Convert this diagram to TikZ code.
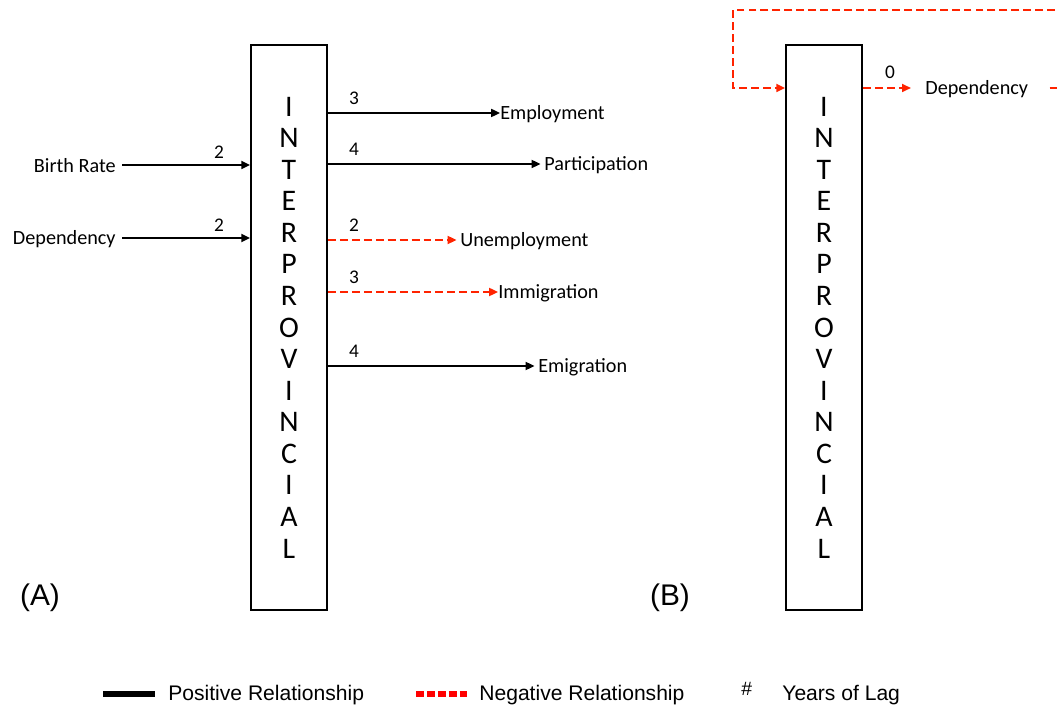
\documentclass[tikz,border=0pt]{standalone}
\usepackage{fontspec}
\setmainfont{Carlito}
\newfontfamily\legendfont{Liberation Sans}
\usetikzlibrary{arrows.meta,calc,positioning}

\definecolor{negred}{RGB}{255,35,0}

\begin{document}
\begin{tikzpicture}[x=0.02cm,y=-0.02cm,
  every node/.style={inner sep=0},
  prov/.style={draw,line width=1.1pt,minimum width=1.52cm,minimum height=11.3cm,
    align=center,font=\fontsize{17}{17.97}\selectfont},
  var/.style={font=\fontsize{11.5}{13}\selectfont},
  lag/.style={font=\fontsize{11}{12}\selectfont},
  posrel/.style={line width=1.1pt,-{Triangle[length=5pt,width=4.5pt]}},
  negrel/.style={posrel,negred,dash pattern=on 4.5pt off 2.3pt},
  panel/.style={font=\legendfont\fontsize{17}{20}\selectfont},
  leg/.style={font=\legendfont\fontsize{12}{14}\selectfont,anchor=west}]
\useasboundingbox (0,0) rectangle (1058,709);
\clip (0,0) rectangle (1058,709);

% panel A
\node[prov] (boxA) at (289,327.5) {I\\N\\T\\E\\R\\P\\R\\O\\V\\I\\N\\C\\I\\A\\L};
\node[panel] (labA) at (40,598) {(A)};

\node[var,anchor=east] (birth) at (116,166) {Birth Rate};
\node[var,anchor=east] (depA) at (116,239) {Dependency};
\draw[posrel] (birth.east) ++(6,-1) coordinate (b0) -- (b0 -| boxA.west);
\draw[posrel] (depA.east) ++(6,-1) coordinate (d0) -- (d0 -| boxA.west);
\node[lag] (lb) at ($(b0)+(97,-13)$) {2};
\node[lag] (ld) at ($(d0)+(97,-13)$) {2};

\node[var,anchor=west] (emp) at (500,114) {Employment};
\node[var,anchor=west] (part) at (544,165) {Participation};
\node[var,anchor=west] (unemp) at (460,241) {Unemployment};
\node[var,anchor=west] (immig) at (498,293) {Immigration};
\node[var,anchor=west] (emig) at (538,367) {Emigration};

\draw[posrel] (boxA.east |- emp.west) ++(0,-1) coordinate (o1) -- (o1 -| emp.west);
\draw[posrel] (boxA.east |- part.west) ++(0,-1) coordinate (o2) -- ([xshift=-2]o2 -| part.west);
\draw[negrel] (boxA.east |- unemp.west) ++(0,-1) coordinate (o3) -- ([xshift=-2]o3 -| unemp.west);
\draw[negrel] (boxA.east |- immig.west) ++(0,-1) coordinate (o4) -- (o4 -| immig.west);
\draw[posrel] (boxA.east |- emig.west) ++(0,-1) coordinate (o5) -- ([xshift=-2]o5 -| emig.west);
\node[lag] (l1) at ($(o1)+(26,-15)$) {3};
\node[lag] (l2) at ($(o2)+(26,-15)$) {4};
\node[lag] (l3) at ($(o3)+(26,-15)$) {2};
\node[lag] (l4) at ($(o4)+(26,-15)$) {3};
\node[lag] (l5) at ($(o5)+(26,-15)$) {4};

% panel B
\node[prov] (boxB) at (824,327.5) {I\\N\\T\\E\\R\\P\\R\\O\\V\\I\\N\\C\\I\\A\\L};
\node[panel] (labB) at (670,598) {(B)};

\node[var,anchor=west] (depB) at (925,89) {Dependency};
\draw[negrel] (boxB.east |- depB.west) ++(0,-1) coordinate (o6) -- ([xshift=-8]o6 -| depB.west);
\node[lag] (l6) at ($(o6)+(27,-16)$) {0};
\coordinate (r1) at (1085,88);
\coordinate (r2) at (1085,10);
\coordinate (r3) at (733,10);
\coordinate (r4) at (733,88);
\draw[negrel] ([xshift=12]depB.east |- r1) -- (r1) -- (r2) -- (r3) -- (r4) -- (r4 -| boxB.west);

% legend
\coordinate (k1) at (103,694);
\coordinate (k2) at (416,694);
\node[leg] (kpos) at (168,695) {Positive Relationship};
\node[leg] (kneg) at (479,695) {Negative Relationship};
\node[leg] (khash) at (741,689) {\fontsize{11}{12}\selectfont\#};
\node[leg] (klag) at (782,695) {Years of Lag};
\draw[line width=3pt] (k1) -- ++(52,0);
\draw[line width=3.4pt,red,dash pattern=on 4.5pt off 1.7pt] (k2) -- ++(52,0);
\end{tikzpicture}
\end{document}
